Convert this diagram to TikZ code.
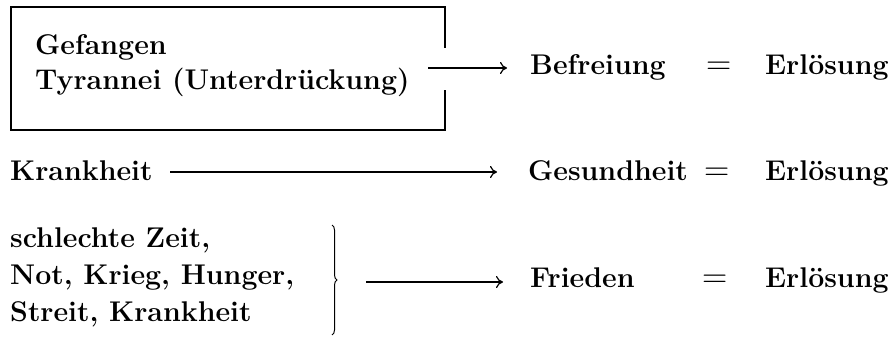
\documentclass[tikz,border=0pt]{standalone}
\usepackage{fontspec}
\setmainfont{Latin Modern Roman}
\usetikzlibrary{arrows.meta,decorations.pathreplacing}
\begin{document}
\begin{tikzpicture}[x=1pt,y=-1pt,
  txt/.style={font=\fontsize{28.5}{34}\selectfont\bfseries, inner sep=0pt, anchor=base west},
  eq/.style={font=\fontsize{35}{40}\selectfont, inner sep=0pt, anchor=base west},
  frame/.style={line width=1.8pt},
  arr/.style={line width=2pt, -{Computer Modern Rightarrow[length=7pt,width=12pt,line width=1.2pt]}},
  bracestyle/.style={line width=1pt, decorate, decoration={brace, amplitude=5pt}}]
\useasboundingbox (0,0) rectangle (890,339);
% row 1
\node[txt] (g1) at (35,55) {Gefangen};
\node[txt] (g2) at (35,90) {Tyrannei (Unterdrückung)};
\draw[frame] (445,48) -- (445,7) -- (11,7) -- (11,130) -- (445,130) -- (445,90);
\coordinate (a1) at (428,68);
\node[txt] (b1) at (530,75) {Befreiung};
\node[eq] (e1) at (706,75) {=};
\node[txt] (r1) at (765,75) {Erlösung};
\draw[arr] (a1) -- ([xshift=-23pt]b1.west |- a1);
% row 2
\node[txt] (k2) at (10,180) {Krankheit};
\node[txt] (b2) at (528,180) {Gesundheit};
\node[eq] (e2) at (704,180) {=};
\node[txt] (r2) at (765,180) {Erlösung};
\coordinate (a2) at (170,172);
\draw[arr] (a2) -- ([xshift=-31pt]b2.west |- a2);
% row 3
\node[txt] (s1) at (10,247) {schlechte Zeit,};
\node[txt] (s2) at (10,284) {Not, Krieg, Hunger,};
\node[txt] (s3) at (10,321) {Streit, Krankheit};
\coordinate (bt) at (332,225);
\coordinate (bb) at (332,335);
\draw[bracestyle] (bt) -- (bb);
\coordinate (a3) at (366,282);
\node[txt] (b3) at (530,287) {Frieden};
\node[eq] (e3) at (702,287) {=};
\node[txt] (r3) at (765,287) {Erlösung};
\draw[arr] (a3) -- ([xshift=-27pt]b3.west |- a3);
\end{tikzpicture}
\end{document}
